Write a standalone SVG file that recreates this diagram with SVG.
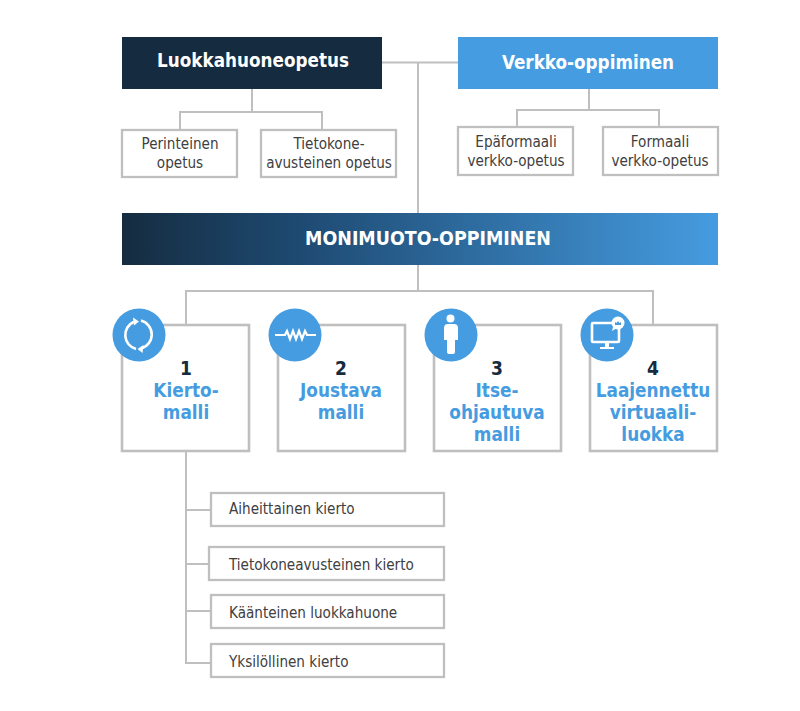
<svg xmlns="http://www.w3.org/2000/svg" width="800" height="711" viewBox="0 0 800 711">
<style>
text{font-family:"DejaVu Sans Condensed","DejaVu Sans","Noto Sans",sans-serif;font-stretch:condensed;text-anchor:middle}
.box{fill:#fff;stroke:#bfbfbf;stroke-width:2.3}
.card{fill:#fff;stroke:#bfbfbf;stroke-width:2.6}
.con{fill:none;stroke:#bfbfbf;stroke-width:2}
.h{font-weight:700;font-size:18.7px;fill:#fff}
.s{font-size:15.1px;fill:#404040}
.l{font-size:15.1px;fill:#404040;text-anchor:start}
.n{font-weight:700;font-size:19px;fill:#152c40}
.t{font-weight:700;font-size:18.8px;fill:#459ce0}
.dot{fill:#459ce0}
.ic{fill:none;stroke:#fff;stroke-width:2.6}
.if{fill:#fff}
</style>
<defs><linearGradient id="g" x1="0" x2="1" y1="0" y2="0"><stop offset="0" stop-color="#152c40"/><stop offset=".3" stop-color="#1e4a72"/><stop offset="1" stop-color="#459ce0"/></linearGradient></defs>
<g id="connectors">
<path class="con" d="M382 62.500H458M418 62.500V214M252 89V112H180V130M252 112H322V130M589 89V110H517V127M589 110H659V127M418 265V291M186 325V291H653V325M186 451V663H211M186 510H211M186 564H209M186 611H211"/>
</g>
<g id="n-luokka"><rect x="122" y="37" width="260" height="52" fill="#152c40"/><text class="h" x="253" y="67">Luokkahuoneopetus</text></g>
<g id="n-verkko"><rect x="458" y="37" width="260" height="52" fill="#459ce0"/><text class="h" x="588" y="69">Verkko-oppiminen</text></g>
<g id="n-perinteinen"><rect class="box" x="122" y="130" width="115" height="47"/><text class="s" x="180" y="149">Perinteinen</text><text class="s" x="180" y="168">opetus</text></g>
<g id="n-tietokone"><rect class="box" x="261" y="130" width="135" height="47"/><text class="s" x="329" y="149">Tietokone-</text><text class="s" x="329" y="168">avusteinen opetus</text></g>
<g id="n-epaformaali"><rect class="box" x="458" y="127" width="115" height="48"/><text class="s" x="516" y="147">Epäformaali</text><text class="s" x="516" y="166">verkko-opetus</text></g>
<g id="n-formaali"><rect class="box" x="603" y="127" width="115" height="48"/><text class="s" x="660" y="147">Formaali</text><text class="s" x="660" y="166">verkko-opetus</text></g>
<g id="n-monimuoto"><rect x="122" y="213" width="596" height="52" fill="url(#g)"/><text class="h" x="428" y="245" style="font-size:19.400px">MONIMUOTO-OPPIMINEN</text></g>
<g id="n-kierto"><rect class="card" x="122" y="325" width="127" height="126"/><circle class="dot" cx="139" cy="335" r="26.500"/>
<path class="ic" d="M136 349A14.500 14.500 0 0 1 134 321.700M141 320.500A14.500 14.500 0 0 1 141 348.500"/><path class="if" d="M139 321.500l-6-4 1 8zM137.500 349l6-4-1 8z"/>
<text class="n" x="186" y="375">1</text><text class="t" x="186" y="397">Kierto-</text><text class="t" x="186" y="419">malli</text></g>
<g id="n-joustava"><rect class="card" x="278" y="325" width="127" height="126"/><circle class="dot" cx="295" cy="335" r="26.500"/>
<path class="ic" style="stroke-width:2.200" d="M275 335H285L287 331 290 339 293 331 296 339 299 331 302 339 305 331 307 335H316"/>
<text class="n" x="341" y="375">2</text><text class="t" x="341" y="397">Joustava</text><text class="t" x="341" y="419">malli</text></g>
<g id="n-itse"><rect class="card" x="434" y="325" width="127" height="126"/><circle class="dot" cx="451" cy="335" r="26.500"/>
<circle class="if" cx="450.500" cy="318.500" r="4"/><path class="if" d="M444 328a4 4 0 0 1 4-4h6a4 4 0 0 1 4 4v12h-3v12a2 2 0 0 1-2 2h-4a2 2 0 0 1-2-2v-12h-3z"/>
<text class="n" x="497" y="375">3</text><text class="t" x="497" y="397">Itse-</text><text class="t" x="497" y="419">ohjautuva</text><text class="t" x="497" y="441">malli</text></g>
<g id="n-virtuaali"><rect class="card" x="590" y="325" width="127" height="126"/><circle class="dot" cx="607" cy="335" r="26.500"/>
<rect class="ic" x="592" y="323" width="27" height="19" rx="1"/><path class="if" d="M605 342h4v5h5v2h-14v-2h5z"/><circle class="if" cx="618" cy="323" r="6.500"/><path class="if" d="M613 327l-1 4 5-3z"/><path fill="#459ce0" d="M615 325v-3l1.500 1 1.500-2 1.500 2 1.500-1v3z"/>
<text class="n" x="653" y="375">4</text><text class="t" x="653" y="397">Laajennettu</text><text class="t" x="653" y="419">virtuaali-</text><text class="t" x="653" y="441">luokka</text></g>
<g id="n-aiheittainen"><rect class="box" x="211" y="493" width="233" height="33"/><text class="l" x="229" y="514">Aiheittainen kierto</text></g>
<g id="n-tietokoneavusteinen"><rect class="box" x="209" y="547" width="235" height="33"/><text class="l" x="229" y="570">Tietokoneavusteinen kierto</text></g>
<g id="n-kaanteinen"><rect class="box" x="211" y="595" width="233" height="33"/><text class="l" x="229" y="618">Käänteinen luokkahuone</text></g>
<g id="n-yksilollinen"><rect class="box" x="211" y="644" width="233" height="33"/><text class="l" x="229" y="667">Yksilöllinen kierto</text></g>
</svg>
